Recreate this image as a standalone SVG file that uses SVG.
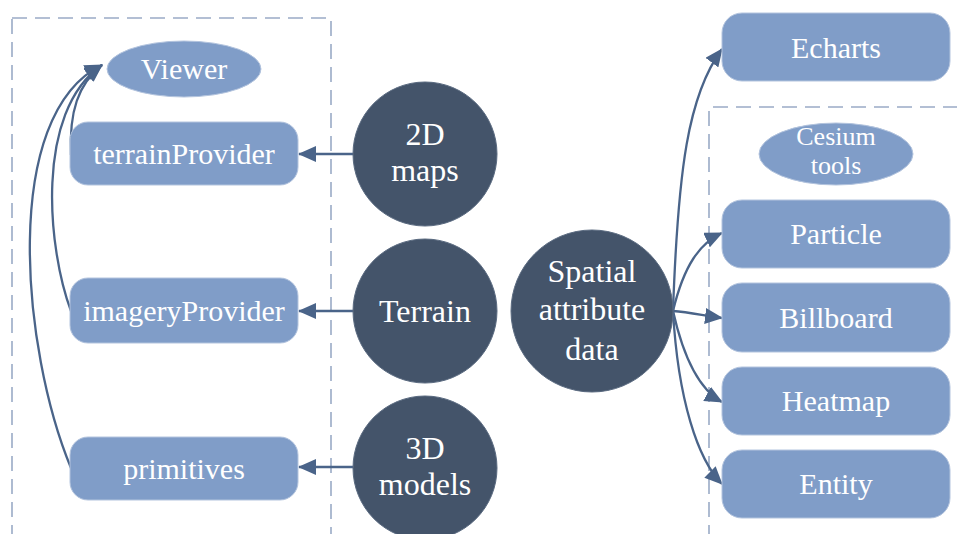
<svg xmlns="http://www.w3.org/2000/svg" width="957" height="534" viewBox="0 0 957 534">
<defs>
<marker id="ah" markerUnits="userSpaceOnUse" markerWidth="18" markerHeight="16" viewBox="0 0 18 16" refX="17" refY="8" orient="auto">
<path d="M0,0 L18,8 L0,16 Z" fill="#4a6489"/>
</marker>
<style>
.box{fill:none;stroke:#9aabc6;stroke-width:1.6;stroke-dasharray:15 8}
.rect{fill:#809dc8;stroke:#b3c4de;stroke-width:1}
.circ{fill:#44546a;stroke:#5a6a80;stroke-width:1}
text{font-family:'Liberation Serif',Tinos,'DejaVu Serif','Noto Serif',Times,'Times New Roman',serif;fill:#ffffff;text-anchor:middle}
.rt{font-size:30px}
.ct{font-size:32px}
.con{fill:none;stroke:#4a6489;stroke-width:2.3;marker-end:url(#ah)}
</style>
</defs>
<rect width="957" height="534" fill="#ffffff"/>
<rect class="box" x="12" y="18" width="319" height="540"/>
<path class="box" d="M709,540 L709,107 L960,107"/>

<g id="connectors">
<path class="con" d="M353,154 L299,154"/>
<path class="con" d="M353,311 L299,311"/>
<path class="con" d="M353,467 L299,467"/>
<path class="con" d="M71,155 C69,112 78,84 102,65"/>
<path class="con" d="M71,311 C48,250 34,112 102,65"/>
<path class="con" d="M71,468 C22,350 0,115 102,65"/>
<path class="con" d="M673,311 C678,170 688,95 722,49"/>
<path class="con" d="M673,311 C684,265 700,243 722,233"/>
<path class="con" d="M673,311 C690,312 705,316 722,318"/>
<path class="con" d="M673,311 C684,360 700,390 722,402"/>
<path class="con" d="M673,311 C678,400 698,460 722,484"/>
</g>

<g id="viewer"><ellipse class="rect" cx="184" cy="69" rx="77" ry="28"/><text class="rt" x="184" y="79">Viewer</text></g>
<g id="terrainProvider"><rect class="rect" x="70" y="122" width="228" height="63" rx="18"/><text class="rt" x="184" y="164">terrainProvider</text></g>
<g id="imageryProvider"><rect class="rect" x="70" y="278" width="228" height="65" rx="18"/><text class="rt" x="184" y="321">imageryProvider</text></g>
<g id="primitives"><rect class="rect" x="70" y="437" width="228" height="63" rx="18"/><text class="rt" x="184" y="479">primitives</text></g>

<g id="maps2d"><circle class="circ" cx="425" cy="154" r="72"/><text class="ct" x="425" y="145">2D</text><text class="ct" x="425" y="181">maps</text></g>
<g id="terrain"><circle class="circ" cx="425" cy="311" r="72"/><text class="ct" x="425" y="322">Terrain</text></g>
<g id="models3d"><circle class="circ" cx="425" cy="468" r="72"/><text class="ct" x="425" y="459">3D</text><text class="ct" x="425" y="495">models</text></g>
<g id="spatial"><circle class="circ" cx="592" cy="311" r="81"/><text class="ct" x="592" y="282">Spatial</text><text class="ct" x="592" y="320">attribute</text><text class="ct" x="592" y="360">data</text></g>

<g id="echarts"><rect class="rect" x="722" y="13" width="228" height="68" rx="20"/><text class="rt" x="836" y="58">Echarts</text></g>
<g id="cesiumTools"><ellipse class="rect" cx="836" cy="154" rx="77" ry="31"/><text x="836" y="145" font-size="26">Cesium</text><text x="836" y="174" font-size="26">tools</text></g>
<g id="particle"><rect class="rect" x="722" y="200" width="228" height="68" rx="20"/><text class="rt" x="836" y="244">Particle</text></g>
<g id="billboard"><rect class="rect" x="722" y="283" width="228" height="69" rx="20"/><text class="rt" x="836" y="328">Billboard</text></g>
<g id="heatmap"><rect class="rect" x="722" y="367" width="228" height="68" rx="20"/><text class="rt" x="836" y="411">Heatmap</text></g>
<g id="entity"><rect class="rect" x="722" y="450" width="228" height="68" rx="20"/><text class="rt" x="836" y="494">Entity</text></g>
</svg>
